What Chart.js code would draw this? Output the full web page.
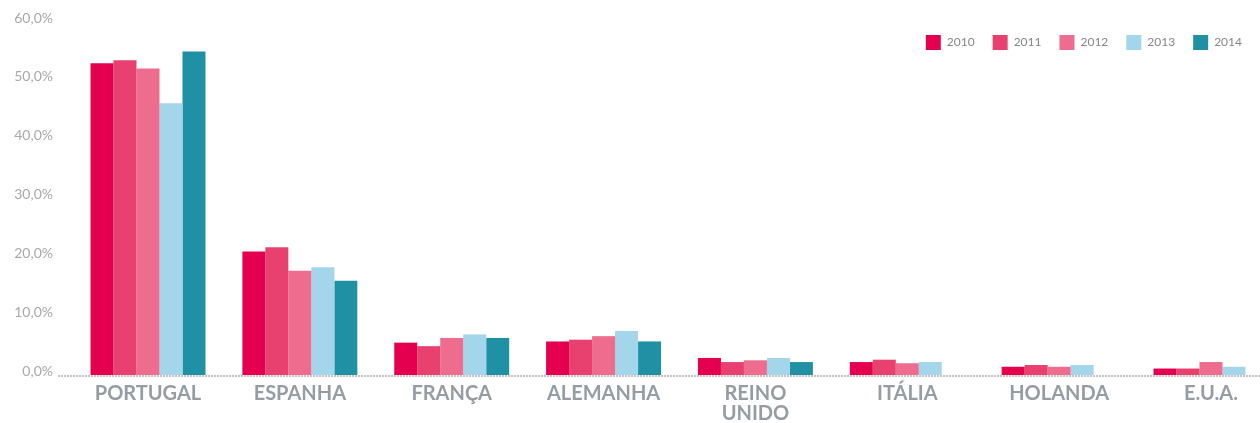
<!DOCTYPE html>
<html>
<head>
<meta charset="utf-8">
<script src="https://cdn.jsdelivr.net/npm/chart.js@4"></script>
<style>
  html, body { margin: 0; padding: 0; background: #fff; }
  #wrap { width: 1260px; height: 423px; }
</style>
</head>
<body>
<div id="wrap"><canvas id="barChart"></canvas></div>
<script>
// Data
const countries = [['PORTUGAL'], ['ESPANHA'], ['FRANÇA'], ['ALEMANHA'], ['REINO', 'UNIDO'], ['ITÁLIA'], ['HOLANDA'], ['E.U.A.']];
const years = ['2010', '2011', '2012', '2013', '2014'];
const v2010 = [53.0, 21.0, 5.5, 5.7, 2.9, 2.2, 1.4, 1.1];
const v2011 = [53.5, 21.7, 4.9, 6.0, 2.2, 2.6, 1.7, 1.1];
const v2012 = [52.1, 17.7, 6.3, 6.6, 2.5, 2.0, 1.4, 2.2];
const v2013 = [46.2, 18.3, 6.9, 7.5, 2.9, 2.2, 1.7, 1.4];
const v2014 = [55.0, 16.0, 6.3, 5.7, 2.2, null, null, null];
const yTicks = [0, 10, 20, 30, 40, 50, 60];

const colors = ['#e4004f', '#e8416f', '#ee6c8d', '#a3d5eb', '#2090a4'];
const series = [v2010, v2011, v2012, v2013, v2014];

// legend sits inside the plot: reserve almost no height, then widen its clip box again
const legendOverlap = {
  id: 'legendOverlap',
  beforeInit(chart) {
    const fit = chart.legend.fit;
    chart.legend.fit = function () {
      fit.call(this);
      this.height = 5;
    };
  },
  afterLayout(chart) {
    chart.legend.bottom = chart.legend.top + 50;
    chart.legend.height = 50;
  }
};

// dotted base line
const baseline = {
  id: 'baseline',
  beforeDatasetsDraw(chart) {
    const { ctx, scales: { y } } = chart;
    const yPos = Math.round(y.getPixelForValue(0)) + 1;
    ctx.save();
    ctx.strokeStyle = '#c4c4c4';
    ctx.lineWidth = 2;
    ctx.setLineDash([2, 1]);
    ctx.beginPath();
    ctx.moveTo(chart.chartArea.left - 90, yPos);
    ctx.lineTo(chart.width, yPos);
    ctx.stroke();
    ctx.restore();
  }
};

const ctx = document.getElementById('barChart').getContext('2d');
new Chart(ctx, {
  type: 'bar',
  data: {
    labels: countries,
    datasets: years.map((yr, i) => ({
      label: yr,
      data: series[i],
      backgroundColor: colors[i],
      borderWidth: 0,
      clip: false
    }))
  },
  options: {
    responsive: true,
    maintainAspectRatio: false,
    animation: false,
    layout: { padding: { top: 17, left: 8, right: 0, bottom: 0 } },
    datasets: {
      bar: { categoryPercentage: 0.757, barPercentage: 1 }
    },
    plugins: {
      tooltip: { enabled: false },
      legend: {
        position: 'top',
        align: 'end',
        labels: {
          boxWidth: 15,
          boxHeight: 15,
          padding: 18,
          color: '#868686',
          font: { family: 'Lato', size: 12 }
        }
      }
    },
    scales: {
      x: {
        offset: false,
        grid: { display: false, drawTicks: false },
        border: { display: false },
        afterFit: (scale) => {
          scale.paddingRight = 49;
          scale.height = 48;
        },
        ticks: {
          autoSkip: false,
          maxRotation: 0,
          padding: 9,
          color: '#959ca3',
          font: { family: 'Lato', size: 20, weight: 'bold', lineHeight: 1.0 }
        }
      },
      y: {
        min: 0,
        max: 60,
        grid: { display: false, drawTicks: false },
        border: { display: false },
        afterBuildTicks: (scale) => { scale.ticks = yTicks.map(v => ({ value: v })); },
        afterFit: (scale) => {
          scale.width = 140;
          scale.paddingTop = 0;
          scale.paddingBottom = 0;
        },
        ticks: {
          padding: 95,
          labelOffset: -4,
          color: '#a8a8a8',
          font: { family: 'Lato', size: 14 },
          callback: (v) => v.toFixed(1).replace('.', ',') + '%'
        }
      }
    }
  },
  plugins: [legendOverlap, baseline]
});
</script>
</body>
</html>
